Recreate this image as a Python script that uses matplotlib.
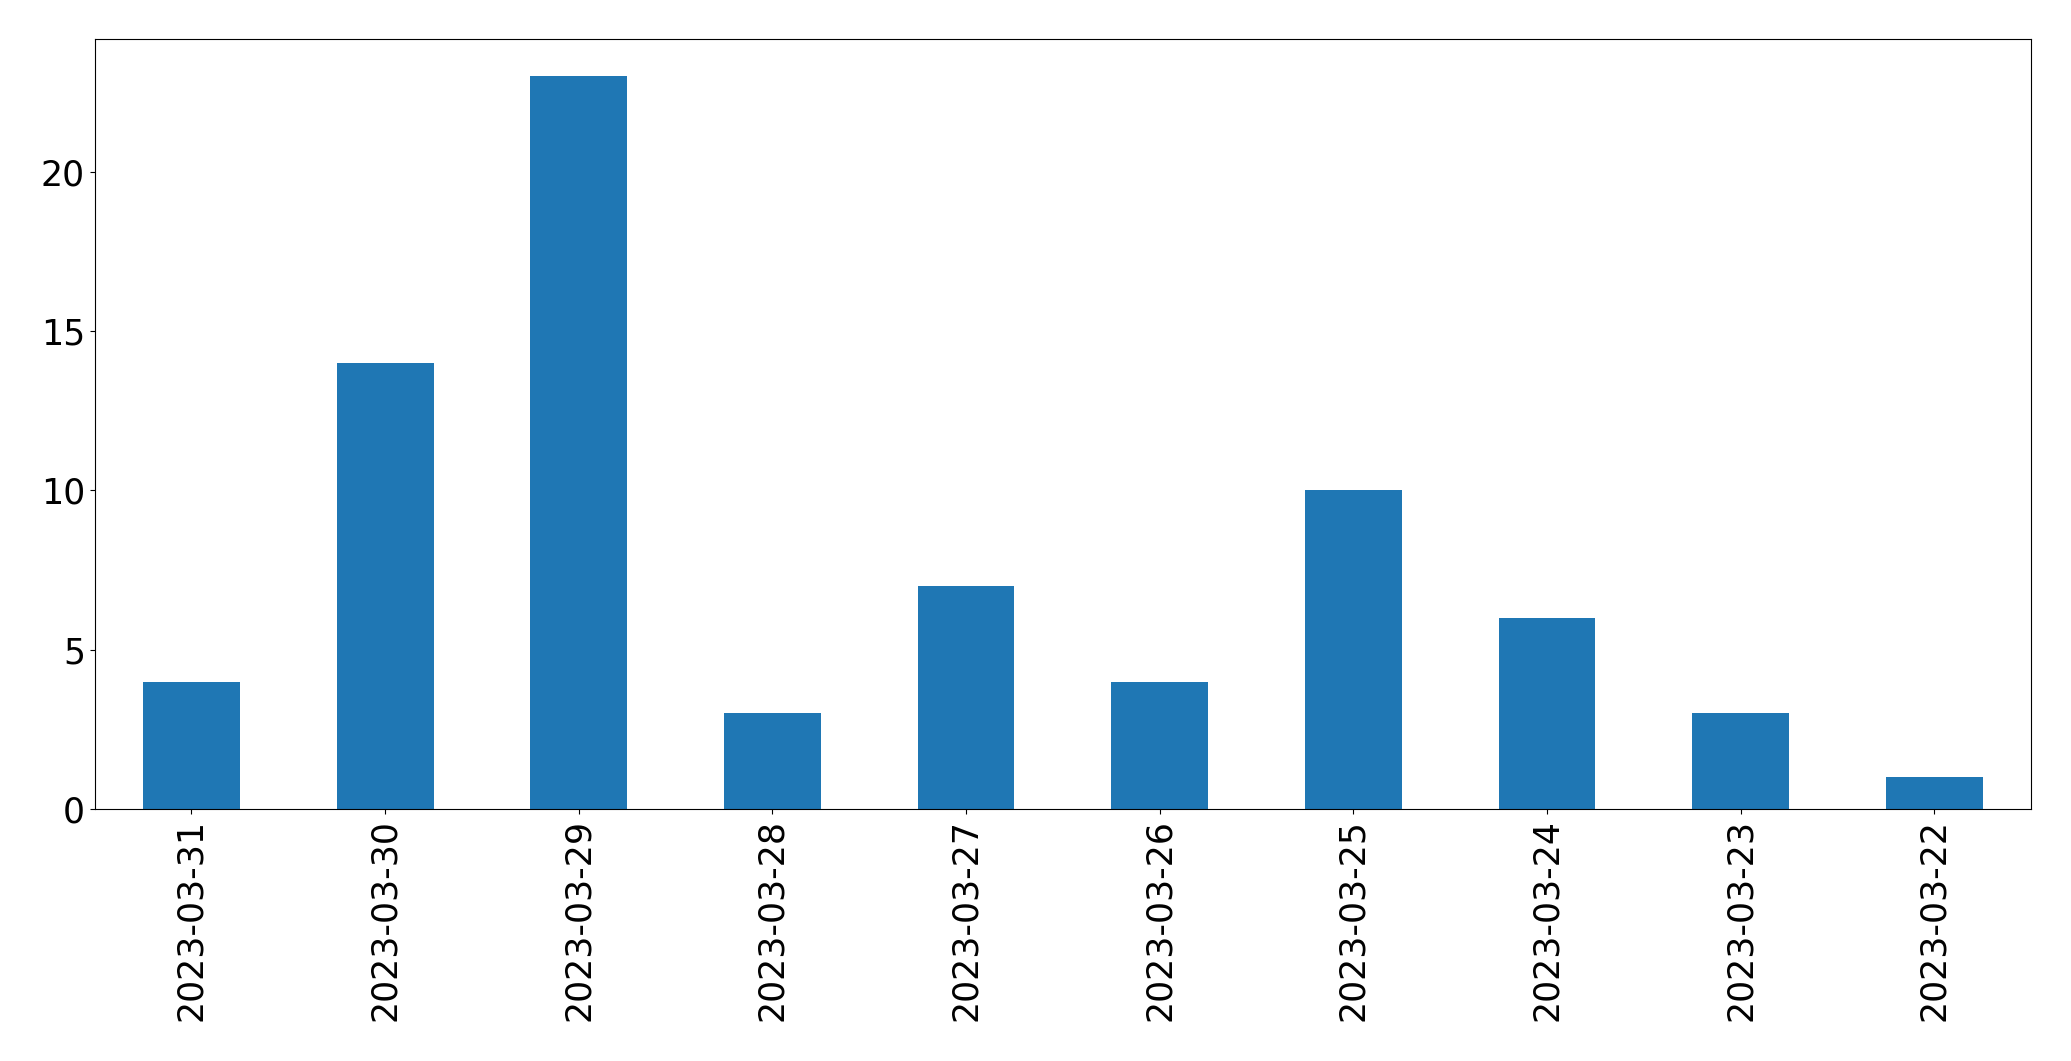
import matplotlib
matplotlib.use("Agg")
import matplotlib.pyplot as plt

dates = ["2023-03-31", "2023-03-30", "2023-03-29", "2023-03-28", "2023-03-27",
         "2023-03-26", "2023-03-25", "2023-03-24", "2023-03-23", "2023-03-22"]
counts = [4, 14, 23, 3, 7, 4, 10, 6, 3, 1]

fig = plt.figure(figsize=(20.71, 10.61), dpi=100)
ax = fig.add_axes([0.0457, 0.2375, 0.9350, 0.7255])
x = list(range(len(dates)))
ax.bar(x, counts, width=0.5, color="#1f77b4")
ax.set_xlim(-0.5, len(dates) - 0.5)
ax.set_ylim(0, max(counts) * 1.05)
ax.set_xticks(x)
ax.set_xticklabels(dates, rotation=90, fontsize=25)
ax.set_yticks([0, 5, 10, 15, 20])
ax.tick_params(axis="y", labelsize=25)
fig.savefig("out.png", dpi=100)
